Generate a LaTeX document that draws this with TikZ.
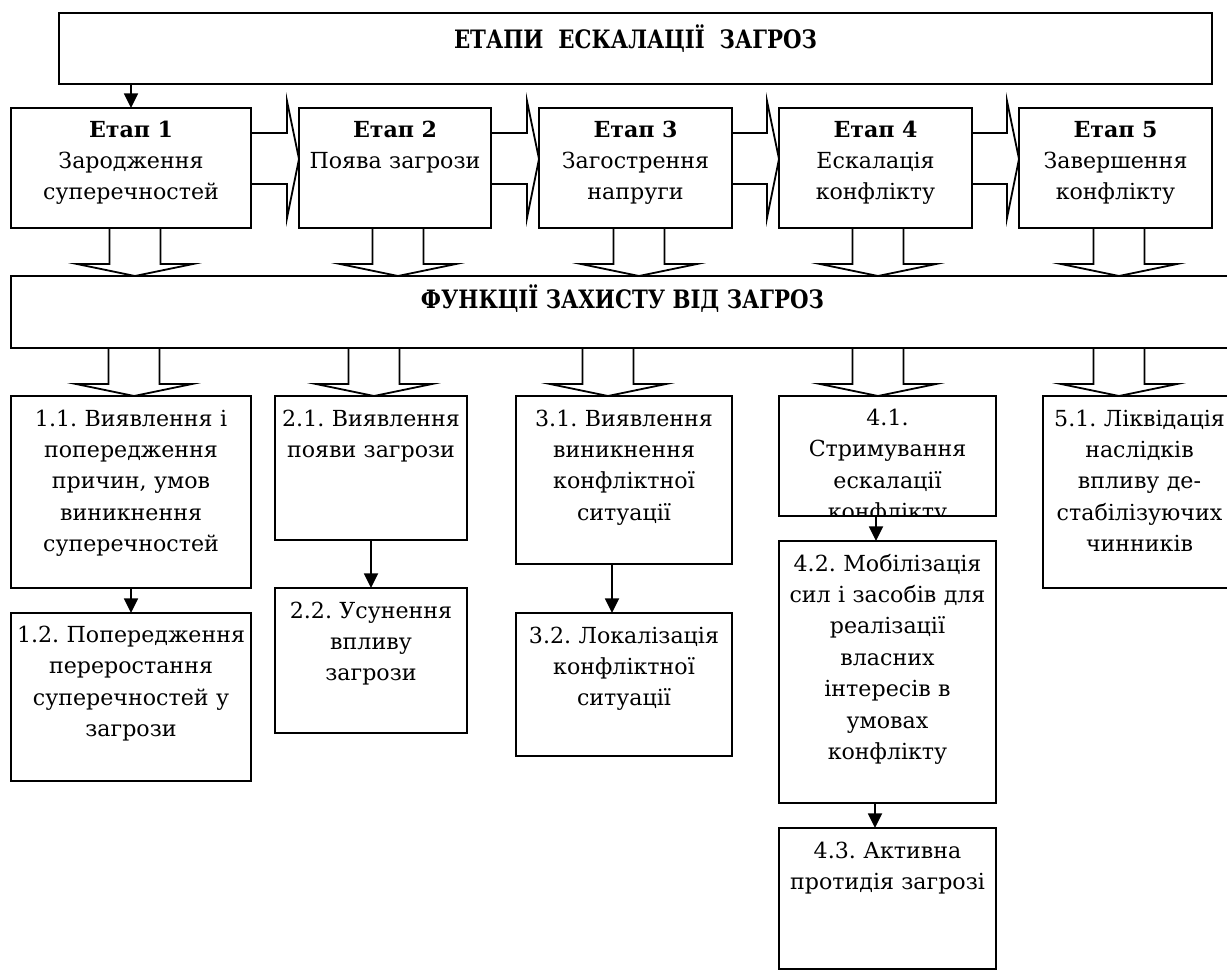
\documentclass[tikz,border=0pt]{standalone}
\usepackage{fontspec}
\setmainfont{DejaVu Serif}
\newfontfamily\ttlfont{DejaVu Serif}[FakeStretch=0.84]
\usetikzlibrary{arrows.meta,calc}
\begin{document}
\frenchspacing
\begin{tikzpicture}[x=0.75pt,y=-0.75pt,
  boxst/.style={draw, line width=1.35pt, rectangle, inner sep=0pt, outer sep=0pt, anchor=north west},
  txt/.style={align=center, text width=300pt, inner sep=0pt, anchor=base, font=\fontsize{16.6}{23.6}\selectfont},
  ttl/.style={inner sep=0pt, anchor=base, font=\ttlfont\fontsize{19}{22}\selectfont\bfseries},
  blk/.style={draw, line width=1.35pt, line join=miter},
  arr/.style={draw, line width=1.35pt, -{Triangle[width=10.5pt,length=11pt]}}]
\useasboundingbox (0,0) rectangle (1227,972);
\clip (0,0) rectangle (1227,972);
\newcommand{\bx}[5]{\node[boxst, minimum width={(#4-#2)*0.75pt}, minimum height={(#5-#3)*0.75pt}] (#1) at (#2,#3) {};}
% boxes
\bx{top}{59}{13}{1212}{84}
\bx{s1}{11}{108}{251}{228}
\bx{s2}{299}{108}{491}{228}
\bx{s3}{539}{108}{732}{228}
\bx{s4}{779}{108}{972}{228}
\bx{s5}{1019}{108}{1212}{228}
\bx{func}{11}{276}{1236}{348}
\bx{f11}{11}{396}{251}{588}
\bx{f12}{11}{613}{251}{781}
\bx{f21}{275}{396}{467}{540}
\bx{f22}{275}{588}{467}{733}
\bx{f31}{516}{396}{732}{564}
\bx{f32}{516}{613}{732}{756}
\bx{f41}{779}{396}{996}{516}
\bx{f42}{779}{541}{996}{803}
\bx{f43}{779}{828}{996}{969}
\bx{f51}{1043}{396}{1236}{588}
% titles
\node[ttl] (topt) at (635.5,48) {ЕТАПИ\ \ ЕСКАЛАЦІЇ\ \ ЗАГРОЗ};
\node[ttl] (funct) at (622.5,308) {ФУНКЦІЇ ЗАХИСТУ ВІД ЗАГРОЗ};
% stage texts
\node[txt] (s1t) at ([yshift=-21.75pt]s1.north) {\textbf{Етап 1}\\Зародження\\суперечностей};
\node[txt] (s2t) at ([yshift=-21.75pt]s2.north) {\textbf{Етап 2}\\Поява загрози};
\node[txt] (s3t) at ([yshift=-21.75pt]s3.north) {\textbf{Етап 3}\\Загострення\\напруги};
\node[txt] (s4t) at ([yshift=-21.75pt]s4.north) {\textbf{Етап 4}\\Ескалація\\конфлікту};
\node[txt] (s5t) at ([yshift=-21.75pt]s5.north) {\textbf{Етап 5}\\Завершення\\конфлікту};
% function texts
\node[txt] (f11t) at ([yshift=-22.5pt]f11.north) {1.1. Виявлення і\\попередження\\причин, умов\\виникнення\\суперечностей};
\node[txt] (f12t) at ([yshift=-22pt]f12.north) {1.2. Попередження\\переростання\\суперечностей у\\загрози};
\node[txt] (f21t) at ([yshift=-22.5pt]f21.north) {2.1. Виявлення\\появи загрози};
\node[txt] (f22t) at ([yshift=-22.5pt]f22.north) {2.2. Усунення\\впливу\\загрози};
\node[txt] (f31t) at ([yshift=-22.5pt]f31.north) {3.1. Виявлення\\виникнення\\конфліктної\\ситуації};
\node[txt] (f32t) at ([yshift=-22.5pt]f32.north) {3.2. Локалізація\\конфліктної\\ситуації};
\begin{scope}
\clip (f41.south west) rectangle (f41.north east);
\node[txt] (f41t) at ([yshift=-22pt]f41.north) {4.1.\\Стримування\\ескалації\\конфлікту};
\end{scope}
\node[txt] (f42t) at ([yshift=-22.5pt]f42.north) {4.2. Мобілізація\\сил і засобів для\\реалізації\\власних\\інтересів в\\умовах\\конфлікту};
\node[txt] (f43t) at ([yshift=-22.5pt]f43.north) {4.3. Активна\\протидія загрозі};
\node[txt] (f51t) at ([yshift=-22.5pt]f51.north) {5.1. Ліквідація\\наслідків\\впливу де-\\стабілізуючих\\чинників};
% simple arrows
\draw[arr] (top.south -| s1.north) -- (s1.north);
\draw[arr] (f11) -- (f12);
\draw[arr] (f21) -- (f22);
\draw[arr] (f31.south -| 612,0) -- (f32.north -| 612,0);
\draw[arr] (f41.south -| 876,0) -- (f42.north -| 876,0);
\draw[arr] (f42.south -| 875,0) -- (f43.north -| 875,0);
% horizontal block arrows
\foreach \a/\b in {s1/s2,s2/s3,s3/s4,s4/s5}{
  \draw[blk] (\a.east |- 0,133) -- ($(\b.west |- 0,133)+(-12,0)$) -- ($(\b.west |- 0,101)+(-12,0)$)
    -- (\b.west |- 0,159) -- ($(\b.west |- 0,218)+(-12,0)$) -- ($(\b.west |- 0,184)+(-12,0)$) -- (\a.east |- 0,184);
}
% vertical block arrows
\foreach \a/\b/\x in {s1/func/135, s2/func/398, s3/func/639, s4/func/878, s5/func/1119,
  func/f11/134, func/f21/374, func/f31/608, func/f41/878, func/f51/1119}{
  \draw[blk] ($(\a.south -| \x,0)+(-25.5,0)$) -- ($(\b.north -| \x,0)+(-25.5,-12)$)
    -- ($(\b.north -| \x,0)+(-58,-12)$) -- (\b.north -| \x,0) -- ($(\b.north -| \x,0)+(58,-12)$)
    -- ($(\b.north -| \x,0)+(25.5,-12)$) -- ($(\a.south -| \x,0)+(25.5,0)$);
}
\end{tikzpicture}
\end{document}
